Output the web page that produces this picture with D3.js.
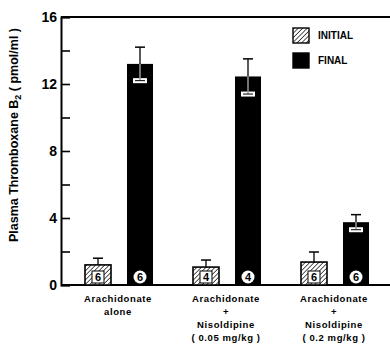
<!DOCTYPE html>
<html><head><meta charset="utf-8">
<script src="https://cdn.jsdelivr.net/npm/d3@7"></script>
<style>body{margin:0;background:#fff}svg{display:block}text{font-family:"Liberation Sans",Arial,sans-serif;font-weight:bold;fill:#000}</style>
</head><body><svg id="c" width="390" height="346"></svg>
<script>
const groups = ["alone", "n005", "n02"];
const groupLabels = [["Arachidonate","alone"],["Arachidonate","+","Nisoldipine","( 0.05 mg/kg )"],["Arachidonate","+","Nisoldipine","( 0.2 mg/kg )"]];
const series = ["INITIAL", "FINAL"];
const initialValues = [1.2, 1.07, 1.37];
const initialSE = [0.4, 0.42, 0.6];
const finalValues = [13.2, 12.45, 3.75];
const finalSE = [1.0, 1.05, 0.45];
const counts = [6, 4, 6];
const yTicks = [0, 2, 4, 6, 8, 10, 12, 14, 16];

const svg = d3.select("#c");
const defs = svg.append("defs");
const pat = defs.append("pattern").attr("id","hatch").attr("patternUnits","userSpaceOnUse")
  .attr("width",3.2).attr("height",3.2).attr("patternTransform","rotate(45)");
pat.append("rect").attr("width",3.2).attr("height",3.2).attr("fill","#fff");
pat.append("line").attr("x1",0).attr("y1",0).attr("x2",0).attr("y2",3.2).attr("stroke","#000").attr("stroke-width",1.3);

const y = d3.scaleLinear().domain([0,16]).range([285,17]);
const x = d3.scaleBand().domain(groups).range([66,390]).padding(0);
const xs = d3.scaleBand().domain(series).range([19,87]).paddingInner(0.381);

// frame lines
svg.append("line").attr("x1",61).attr("x2",390).attr("y1",y(16)).attr("y2",y(16)).attr("stroke","#000").attr("stroke-width",2);
svg.append("line").attr("x1",61).attr("x2",390).attr("y1",y(0)).attr("y2",y(0)).attr("stroke","#000").attr("stroke-width",2);

const ax = svg.append("g").attr("transform","translate(61,0)")
  .call(d3.axisLeft(y).tickValues(yTicks).tickSize(-9).tickPadding(4).tickFormat(d => d%4===0 ? d : ""));
ax.select(".domain").attr("stroke","#000").attr("stroke-width",2);
ax.selectAll(".tick line").attr("stroke","#000").attr("stroke-width",1.6);
ax.selectAll(".tick text").style("font-size","14px").style("font-family","'Liberation Sans',Arial,sans-serif").style("font-weight","bold").attr("fill","#000");

// y label
svg.append("text").attr("transform","translate(18,"+135+") rotate(-90)").attr("text-anchor","middle")
  .style("font-size","12.5px")
  .html('Plasma Thromboxane B<tspan dy="3" font-size="9">2</tspan><tspan dy="-3"> ( pmol/ml )</tspan>');

const data = groups.map((g,i)=>({g, i, vals:[
  {s:"INITIAL", v:initialValues[i], se:initialSE[i]},
  {s:"FINAL", v:finalValues[i], se:finalSE[i]}]}));

const gg = svg.selectAll("g.grp").data(data).join("g").attr("class","grp")
  .attr("transform", d => `translate(${x(d.g)},0)`);

gg.each(function(d){
  const g = d3.select(this);
  d.vals.forEach(b => {
    const bx = xs(b.s), bw = xs.bandwidth(), cx = bx + bw/2;
    // upper error
    g.append("line").attr("x1",cx).attr("x2",cx).attr("y1",y(b.v)).attr("y2",y(b.v+b.se)).attr("stroke","#000").attr("stroke-width",1.3);
    g.append("line").attr("x1",cx-5).attr("x2",cx+5).attr("y1",y(b.v+b.se)).attr("y2",y(b.v+b.se)).attr("stroke","#000").attr("stroke-width",1.5);
    if (b.s === "INITIAL") {
      g.append("rect").attr("x",bx).attr("y",y(b.v)).attr("width",bw).attr("height",y(0)-y(b.v))
        .attr("fill","url(#hatch)").attr("stroke","#000").attr("stroke-width",1.6);
      g.append("rect").attr("x",cx-6).attr("y",271).attr("width",12).attr("height",12).attr("fill","#fff").attr("stroke","#000").attr("stroke-width",1);
      g.append("text").attr("x",cx).attr("y",281).attr("text-anchor","middle").style("font-size","11px").text(counts[d.i]);
    } else {
      g.append("rect").attr("x",bx).attr("y",y(b.v)).attr("width",bw).attr("height",y(0)-y(b.v)).attr("fill","#000");
      // lower error in white
      g.append("line").attr("x1",cx).attr("x2",cx).attr("y1",y(b.v)).attr("y2",y(b.v-b.se)).attr("stroke","#fff").attr("stroke-width",1.3);
      g.append("rect").attr("x",cx-7).attr("y",y(b.v-b.se)-2.5).attr("width",14).attr("height",5).attr("fill","#fff");
      g.append("line").attr("x1",cx-5).attr("x2",cx+5).attr("y1",y(b.v-b.se)).attr("y2",y(b.v-b.se)).attr("stroke","#000").attr("stroke-width",1);
      g.append("line").attr("x1",cx).attr("x2",cx).attr("y1",y(b.v)).attr("y2",y(b.v-b.se)).attr("stroke","#000").attr("stroke-width",0.6);
      g.append("circle").attr("cx",cx).attr("cy",277).attr("r",6.5).attr("fill","#fff");
      g.append("text").attr("x",cx).attr("y",281).attr("text-anchor","middle").style("font-size","11px").text(counts[d.i]);
    }
  });
  const lab = g.append("text").attr("text-anchor","middle").style("font-size","9.5px").style("letter-spacing","0.6px");
  groupLabels[d.i].forEach((t,k) => {
    lab.append("tspan").attr("x", x.bandwidth()/2 - 2).attr("y", 302 + k*13).text(t);
  });
});

// legend
const leg = svg.append("g");
series.forEach((s,k) => {
  const ly = 28 + k*25;
  leg.append("rect").attr("x",293).attr("y",ly).attr("width",16).attr("height",15)
    .attr("fill", s==="INITIAL" ? "url(#hatch)" : "#000").attr("stroke","#000").attr("stroke-width",1.4);
  leg.append("text").attr("x",318).attr("y",ly+11).style("font-size","10px").text(s);
});
</script></body></html>
